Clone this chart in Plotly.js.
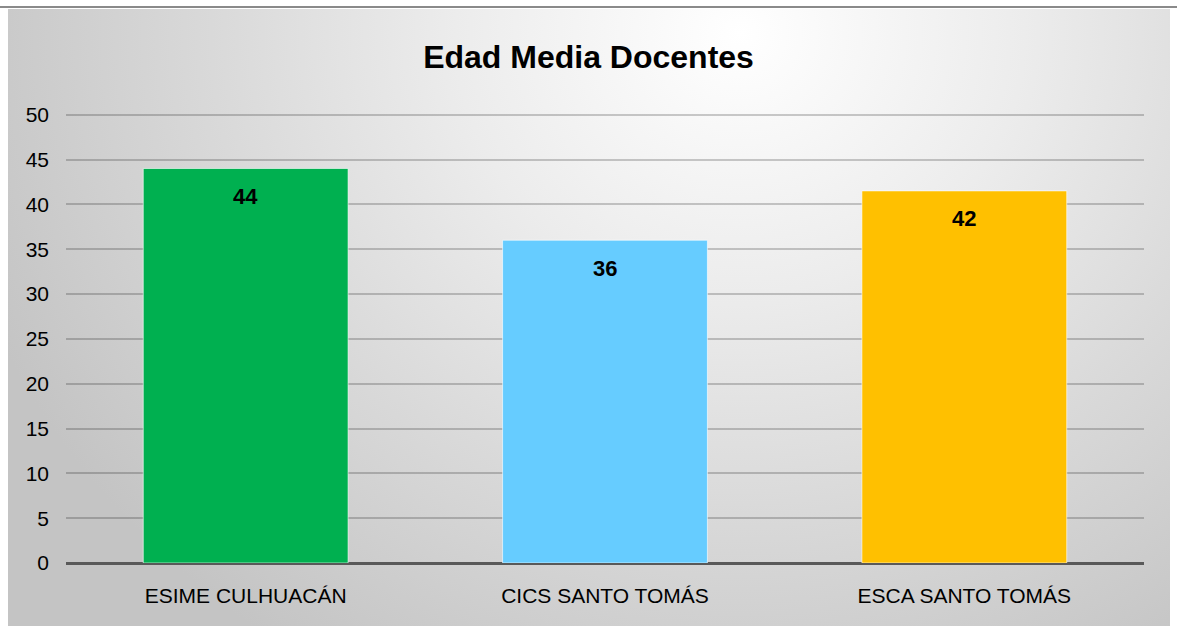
<!DOCTYPE html>
<html>
<head>
<meta charset="utf-8">
<script src="https://cdn.plot.ly/plotly-3.0.1.min.js"></script>
<style>
  html, body { margin:0; padding:0; background:#ffffff; width:1177px; height:628px; overflow:hidden; }
  #topline { position:absolute; left:0; top:6px; width:1177px; height:2px; background:#8a8a8a; }
  #bg { position:absolute; left:8px; top:9px; width:1162px; height:617px;
        background: radial-gradient(ellipse 70% 120% at 63% 4%, #ffffff 0%, #ececec 35%, #d9d9d9 65%, #c4c4c4 100%); }
  #chart { position:absolute; left:0; top:0; width:1177px; height:628px; }
</style>
</head>
<body>
<div id="topline"></div>
<div id="bg"></div>
<div id="chart"></div>
<script>
// ---- data ----
const categories = ["ESIME CULHUACÁN", "CICS SANTO TOMÁS", "ESCA SANTO TOMÁS"];
const values = [44, 36, 41.5];
const barColors = ["#00B050", "#66CCFF", "#FFC000"];
const yTickValues = [0, 5, 10, 15, 20, 25, 30, 35, 40, 45, 50];
const chartTitle = "Edad Media Docentes";

const FONT = "Liberation Sans, Arial, sans-serif";

const trace = {
  type: "bar",
  x: categories,
  y: values,
  marker: { color: barColors, line: { color: "rgba(255,255,255,0.6)", width: 1 } },
  hoverinfo: "x+y"
};

const annotations = categories.map((c, i) => ({
  x: c, y: values[i], xref: "x", yref: "y",
  text: "<b>" + Math.round(values[i]) + "</b>",
  showarrow: false, yanchor: "middle", yshift: -28,
  font: { family: FONT, size: 22, color: "#000000" }
}));

const layout = {
  width: 1177, height: 628,
  paper_bgcolor: "rgba(0,0,0,0)",
  plot_bgcolor: "rgba(0,0,0,0)",
  margin: { l: 66, r: 33, t: 112, b: 65, pad: 0 },
  title: {
    text: "<b>" + chartTitle + "</b>",
    font: { family: FONT, size: 32, color: "#000000" },
    x: 0.5, xanchor: "center", y: 1 - 57/628, yanchor: "middle", yref: "container"
  },
  bargap: 0.43,
  showlegend: false,
  xaxis: {
    type: "category",
    showgrid: false, zeroline: false, showline: false,
    ticks: "", tickfont: { family: FONT, size: 21, color: "#000000" },
    ticklabelstandoff: 18
  },
  yaxis: {
    range: [0, 50.3], tickvals: yTickValues,
    showgrid: true, gridcolor: "rgba(0,0,0,0.2)", gridwidth: 2,
    zeroline: true, zerolinecolor: "#595959", zerolinewidth: 3,
    showline: false, ticks: "",
    tickfont: { family: FONT, size: 21, color: "#000000" },
    ticklabelstandoff: 16
  },
  annotations: annotations
};

Plotly.newPlot("chart", [trace], layout, { displayModeBar: false, staticPlot: true });
</script>
</body>
</html>
